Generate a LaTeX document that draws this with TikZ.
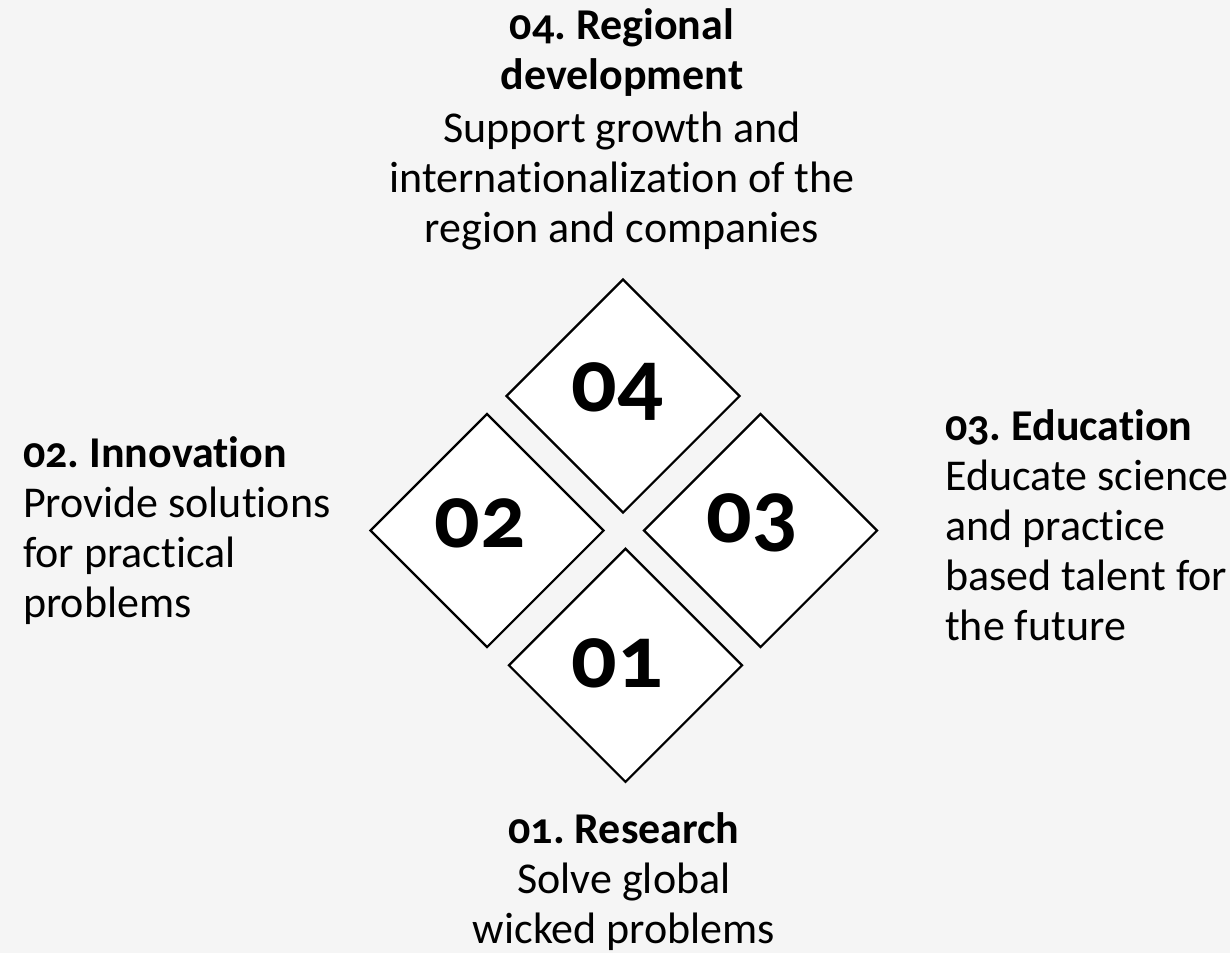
\documentclass[tikz,border=0pt]{standalone}
\usepackage{fontspec}
\setmainfont{Carlito}[Numbers=OldStyle, Ligatures=NoCommon]
\usetikzlibrary{shapes.geometric}
\definecolor{bgc}{HTML}{F5F5F5}
\frenchspacing
\begin{document}
\frenchspacing
\begin{tikzpicture}[x=1pt,y=-1pt,
  box/.style={diamond, aspect=1, draw=black, line width=2.2pt, fill=white,
    minimum width=234pt, minimum height=234pt, inner sep=0pt},
  num/.style={font=\fontsize{90}{90}\selectfont\bfseries, anchor=base, inner sep=0pt},
  txt/.style={font=\fontsize{44}{50}\selectfont, inner sep=0pt}]
\useasboundingbox (0,0) rectangle (1230,953);
\fill[bgc] (0,0) rectangle (1230,953);
% diamonds
\node[box] (d4) at (623,396) {};
\node[box] (d2) at (487,530.5) {};
\node[box] (d3) at (760.5,530.5) {};
\node[box] (d1) at (625.5,665.3) {};
% numbers
\node[num] (n4) at (617,411) {04};
\node[num] (n2) at (480,547) {02};
\node[num] (n3) at (752,542) {03};
\node[num] (n1) at (617,687.5) {01};
% labels (anchor = baseline of last line)
\node[txt, align=center, anchor=base] (t4) at (622,242)
  {\textbf{04. Regional}\\\textbf{development}\\[3pt]Support growth and\\internationalization of the\\region and companies};
\node[txt, align=left, anchor=base west] (t2) at (23,617)
  {\textbf{02. Innovation}\\Provide solutions\\for practical\\problems};
\node[txt, align=left, anchor=base west] (t3) at (945,640)
  {\textbf{03. Education}\\Educate science\\and practice\\based talent for\\the future};
\node[txt, align=center, anchor=base] (t1) at (624,943)
  {\textbf{01. Research}\\Solve global\\wicked problems};
\end{tikzpicture}
\end{document}
